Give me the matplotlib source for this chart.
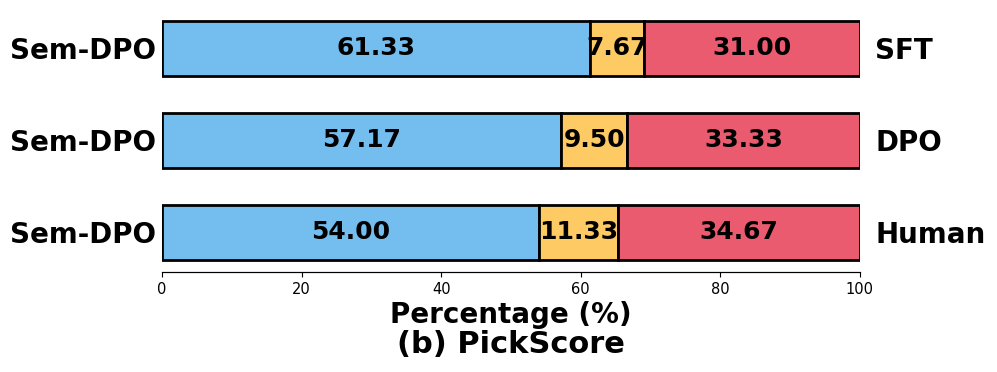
import numpy as np
import matplotlib.pyplot as plt

# Data (top to bottom as shown)
opponents = ['SFT', 'DPO', 'Human']
ours = ['Sem-DPO', 'Sem-DPO', 'Sem-DPO']
win = [61.33, 57.17, 54.00]
tie = [7.67, 9.50, 11.33]
lose = [31.00, 33.33, 34.67]

colors = ['#74BDEF', '#FDCA63', '#EA5B70']

fig = plt.figure(figsize=(9.97, 3.72), dpi=100)
ax = fig.add_axes([0.1625, 0.269, 0.7, 0.707])

y = np.arange(len(opponents))[::-1]
left = np.zeros(len(opponents))
for vals, c in zip([win, tie, lose], colors):
    vals = np.array(vals)
    bars = ax.barh(y, vals, left=left, height=0.6, color=c,
                   edgecolor='black', linewidth=2)
    for b, v in zip(bars, vals):
        ax.text(b.get_x() + b.get_width() / 2, b.get_y() + b.get_height() / 2,
                f'{v:.2f}', ha='center', va='center',
                fontsize=18, fontweight='bold')
    left += vals

ax.set_xlim(0, 100)
ax.set_yticks(y)
ax.set_yticklabels(ours, fontsize=20, fontweight='bold')
ax.tick_params(axis='y', length=0, pad=4)
ax.tick_params(axis='x', labelsize=10.5)

ax2 = ax.twinx()
ax2.set_ylim(ax.get_ylim())
ax2.set_yticks(y)
ax2.set_yticklabels(opponents, fontsize=20, fontweight='bold')
ax2.tick_params(axis='y', length=0, pad=11)

for a in (ax, ax2):
    for s in ['top', 'left', 'right']:
        a.spines[s].set_visible(False)

ax.set_xlabel('Percentage (%)', fontsize=20, fontweight='bold', labelpad=3)
fig.text(0.5125, 0.073, '(b) PickScore', ha='center', va='center',
         fontsize=22, fontweight='bold')

fig.savefig('out.png', dpi=100)
